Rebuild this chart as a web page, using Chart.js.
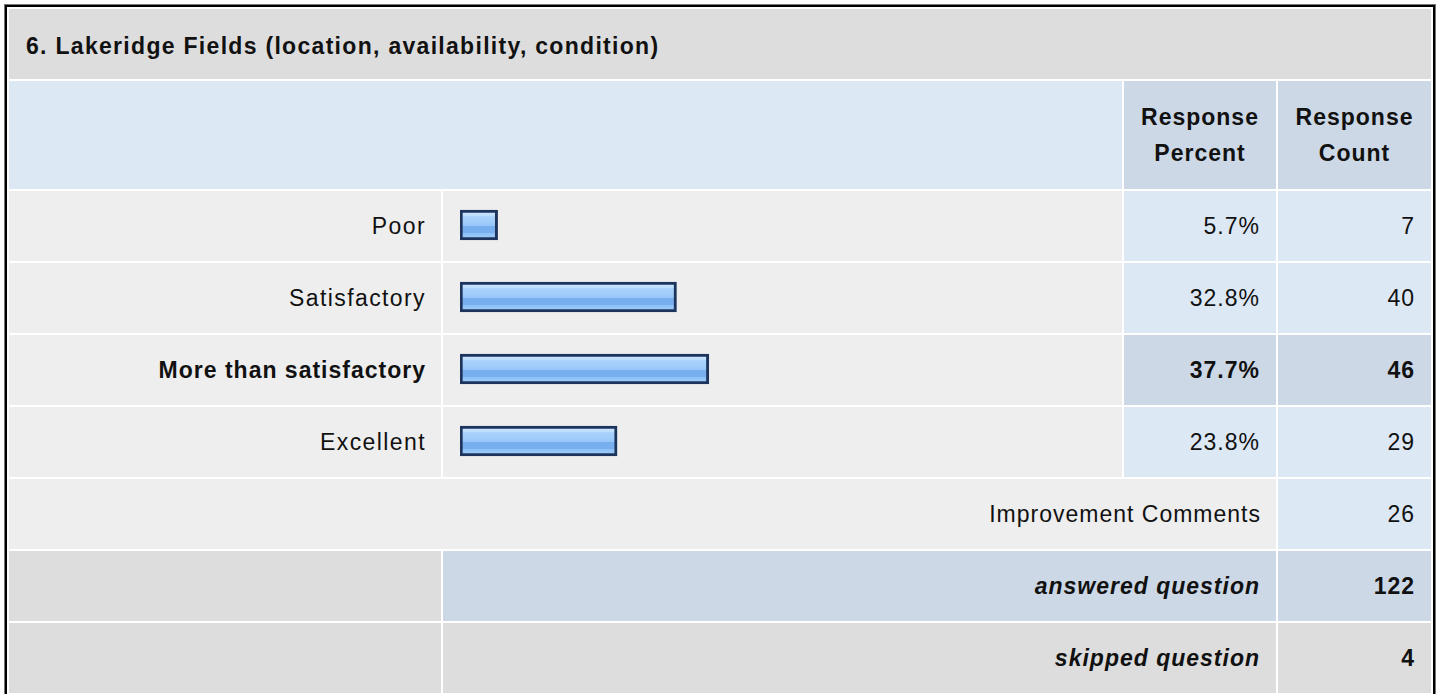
<!DOCTYPE html>
<html>
<head>
<meta charset="utf-8">
<script src="https://cdn.jsdelivr.net/npm/chart.js@4"></script>
<style>
  html, body { margin: 0; padding: 0; background: #fff; }
  body { width: 1440px; height: 694px; overflow: hidden; position: relative;
         font-family: "Liberation Sans", Arial, Helvetica, sans-serif; color: #111; }
  table { position: absolute; left: 5px; top: 5px; width: 1430px; table-layout: fixed;
          border: 2px solid #000; box-shadow: 0 0 0 1px #777; border-collapse: separate;
          border-spacing: 2px; background: #fff; }
  td { padding: 0; font-size: 23px; letter-spacing: 1px; vertical-align: middle; height: 70px; }
  .title { background: #dddddd; font-weight: bold; padding-left: 17px; padding-top: 4px; height: 66px; letter-spacing: 1.3px; }
  .hdr { background: #dde8f5; height: 108px; }
  .hdr2 { background: #ccd8e6; font-weight: bold; text-align: center; line-height: 36px; height: 108px; }
  .lbl { background: #eeeeee; text-align: right; padding-right: 15px; }
  .lbl.wide { letter-spacing: 1.4px; }
  .bar { background: #eeeeee; }
  .val { background: #dde8f5; text-align: right; padding-right: 16px; }
  .hi { background: #ccd8e6; font-weight: bold; }
  .b { font-weight: bold; }
  .dk { background: #dddddd; }
  .sum { background: #ccd8e6; font-weight: bold; font-style: italic; text-align: right; padding-right: 16px; }
  .sum2 { background: #dddddd; font-weight: bold; font-style: italic; text-align: right; padding-right: 16px; }
  .cnt { background: #ccd8e6; font-weight: bold; text-align: right; padding-right: 16px; }
  .cnt2 { background: #dddddd; font-weight: bold; text-align: right; padding-right: 16px; }
  #chartWrap { position: absolute; left: 443px; top: 189px; width: 679px; height: 288px; pointer-events: none; }
</style>
</head>
<body>
<table id="tbl">
  <colgroup><col style="width:432px"><col style="width:679px"><col style="width:152px"><col style="width:153px"></colgroup>
  <tbody id="tb"></tbody>
</table>
<div id="chartWrap"><canvas id="c" width="679" height="288"></canvas></div>
<script>
// ---- data ----
const questionTitle = "6. Lakeridge Fields (location, availability, condition)";
const categories = ["Poor", "Satisfactory", "More than satisfactory", "Excellent"];
const responsePercent = [5.7, 32.8, 37.7, 23.8];
const responseCount = [7, 40, 46, 29];
const commentsLabel = "Improvement Comments";
const commentsCount = 26;
const answeredCount = 122;
const skippedCount = 4;

// ---- table ----
const tb = document.getElementById('tb');
const maxIdx = responsePercent.indexOf(Math.max(...responsePercent));
let html = '';
html += `<tr><td class="title" colspan="4">${questionTitle}</td></tr>`;
html += `<tr><td class="hdr" colspan="2"></td><td class="hdr2">Response<br>Percent</td><td class="hdr2">Response<br>Count</td></tr>`;
categories.forEach((c, i) => {
  const hi = i === maxIdx;
  html += `<tr><td class="lbl${hi ? ' b' : ' wide'}">${c}</td><td class="bar"></td>` +
          `<td class="val${hi ? ' hi' : ''}">${responsePercent[i].toFixed(1)}%</td>` +
          `<td class="val${hi ? ' hi' : ''}">${responseCount[i]}</td></tr>`;
});
html += `<tr><td class="lbl" colspan="3">${commentsLabel}</td><td class="val">${commentsCount}</td></tr>`;
html += `<tr><td class="dk"></td><td class="sum" colspan="2">answered question</td><td class="cnt">${answeredCount}</td></tr>`;
html += `<tr><td class="dk"></td><td class="sum2" colspan="2">skipped question</td><td class="cnt2">${skippedCount}</td></tr>`;
tb.innerHTML = html;

// ---- chart ----
const BAR_H = 30;
function barFill(ctx) {
  const chart = ctx.chart;
  const fallback = '#9fcdfb';
  if (ctx.type !== 'data' || !chart.scales || !chart.scales.y) return fallback;
  const yc = chart.scales.y.getPixelForValue(ctx.dataIndex);
  if (!isFinite(yc)) return fallback;
  const g = chart.ctx.createLinearGradient(0, yc - BAR_H / 2, 0, yc + BAR_H / 2);
  g.addColorStop(0.00, '#d2e8ff');
  g.addColorStop(0.18, '#c0dffd');
  g.addColorStop(0.20, '#acd4fc');
  g.addColorStop(0.40, '#a0cdfa');
  g.addColorStop(0.52, '#96c6f8');
  g.addColorStop(0.55, '#78afee');
  g.addColorStop(0.75, '#78afee');
  g.addColorStop(0.78, '#8ec0f5');
  g.addColorStop(1.00, '#a6d0fb');
  return g;
}
const chart = new Chart(document.getElementById('c'), {
  type: 'bar',
  data: {
    labels: categories,
    datasets: [{
      data: responsePercent,
      backgroundColor: barFill,
      borderColor: '#1d355c',
      borderWidth: 3,
      borderSkipped: false,
      barThickness: BAR_H
    }]
  },
  options: {
    indexAxis: 'y',
    responsive: false,
    devicePixelRatio: 1,
    animation: false,
    layout: { padding: { left: 17, right: 2, top: 0, bottom: 0 } },
    plugins: { legend: { display: false }, tooltip: { enabled: false } },
    scales: {
      x: { display: false, min: 0, max: 100 },
      y: { display: false, offset: true, grid: { display: false } }
    }
  }
});
chart.update('none');
</script>
</body>
</html>
